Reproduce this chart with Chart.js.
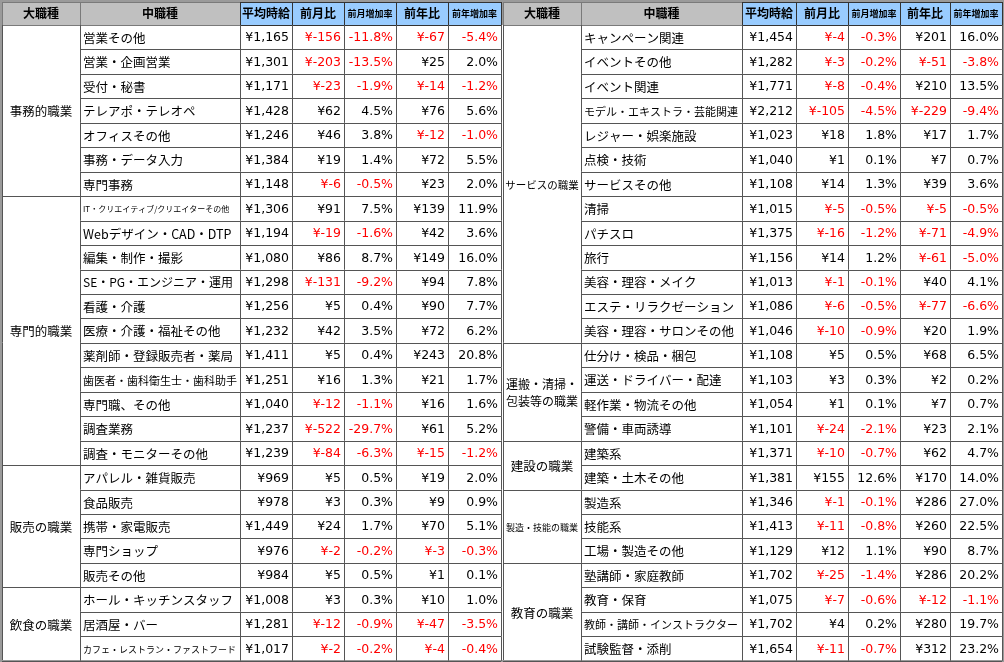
<!DOCTYPE html>
<html><head><meta charset="utf-8">
<script src="https://cdn.jsdelivr.net/npm/chart.js@4"></script>
<style>html,body{margin:0;padding:0;background:#fff}</style>
</head><body>
<canvas id="c" width="1004" height="662"></canvas>
<script>
const headers = ["大職種","中職種","平均時給","前月比","前月増加率","前年比","前年増加率"];
const leftGroups = [["事務的職業",7],["専門的職業",11],["販売の職業",5],["飲食の職業",3]];
const leftNames = ["営業その他","営業・企画営業","受付・秘書","テレアポ・テレオペ","オフィスその他","事務・データ入力","専門事務",
"IT・クリエイティブ/クリエイターその他","Webデザイン・CAD・DTP","編集・制作・撮影","SE・PG・エンジニア・運用","看護・介護","医療・介護・福祉その他","薬剤師・登録販売者・薬局","歯医者・歯科衛生士・歯科助手","専門職、その他","調査業務","調査・モニターその他",
"アパレル・雑貨販売","食品販売","携帯・家電販売","専門ショップ","販売その他",
"ホール・キッチンスタッフ","居酒屋・バー","カフェ・レストラン・ファストフード"];
const leftAvg = [1165,1301,1171,1428,1246,1384,1148,1306,1194,1080,1298,1256,1232,1411,1251,1040,1237,1239,969,978,1449,976,984,1008,1281,1017];
const leftMoM = [-156,-203,-23,62,46,19,-6,91,-19,86,-131,5,42,5,16,-12,-522,-84,5,3,24,-2,5,3,-12,-2];
const leftMoMRate = [-11.8,-13.5,-1.9,4.5,3.8,1.4,-0.5,7.5,-1.6,8.7,-9.2,0.4,3.5,0.4,1.3,-1.1,-29.7,-6.3,0.5,0.3,1.7,-0.2,0.5,0.3,-0.9,-0.2];
const leftYoY = [-67,25,-14,76,-12,72,23,139,42,149,94,90,72,243,21,16,61,-15,19,9,70,-3,1,10,-47,-4];
const leftYoYRate = [-5.4,2.0,-1.2,5.6,-1.0,5.5,2.0,11.9,3.6,16.0,7.8,7.7,6.2,20.8,1.7,1.6,5.2,-1.2,2.0,0.9,5.1,-0.3,0.1,1.0,-3.5,-0.4];

const rightGroups = [["サービスの職業",13],["運搬・清掃・\n包装等の職業",4],["建設の職業",2],["製造・技能の職業",3],["教育の職業",4]];
const rightNames = ["キャンペーン関連","イベントその他","イベント関連","モデル・エキストラ・芸能関連","レジャー・娯楽施設","点検・技術","サービスその他","清掃","パチスロ","旅行","美容・理容・メイク","エステ・リラクゼーション","美容・理容・サロンその他",
"仕分け・検品・梱包","運送・ドライバー・配達","軽作業・物流その他","警備・車両誘導","建築系","建築・土木その他","製造系","技能系","工場・製造その他","塾講師・家庭教師","教育・保育","教師・講師・インストラクター","試験監督・添削"];
const rightAvg = [1454,1282,1771,2212,1023,1040,1108,1015,1375,1156,1013,1086,1046,1108,1103,1054,1101,1371,1381,1346,1413,1129,1702,1075,1702,1654];
const rightMoM = [-4,-3,-8,-105,18,1,14,-5,-16,14,-1,-6,-10,5,3,1,-24,-10,155,-1,-11,12,-25,-7,4,-11];
const rightMoMRate = [-0.3,-0.2,-0.4,-4.5,1.8,0.1,1.3,-0.5,-1.2,1.2,-0.1,-0.5,-0.9,0.5,0.3,0.1,-2.1,-0.7,12.6,-0.1,-0.8,1.1,-1.4,-0.6,0.2,-0.7];
const rightYoY = [201,-51,210,-229,17,7,39,-5,-71,-61,40,-77,20,68,2,7,23,62,170,286,260,90,286,-12,280,312];
const rightYoYRate = [16.0,-3.8,13.5,-9.4,1.7,0.7,3.6,-0.5,-4.9,-5.0,4.1,-6.6,1.9,6.5,0.2,0.7,2.1,4.7,14.0,27.0,22.5,8.7,20.2,-1.1,19.7,23.2];

const leftCols = [2,80,240,292,344,396,448,501];
const rightCols = [503,581,742,796,848,900,950,1002];
const headTop = 2, headBot = 25, rowH = 24.45;

const fmtY = v => (v<0?"¥-":"¥") + Math.abs(v).toLocaleString("en-US");
const fmtP = v => v.toFixed(1) + "%";

const tablePlugin = {
  id:"table",
  afterDraw(chart){
    const ctx = chart.ctx, xs = chart.scales.x, ys = chart.scales.y;
    const X = v => xs.getPixelForValue(v), Y = v => ys.getPixelForValue(v);
    const FONT = '"Noto Sans CJK JP", sans-serif';
    const rowTop = i => headBot + i*rowH;
    function fit(text, size, maxW){
      let s=size; ctx.font = s+"px "+FONT;
      while(ctx.measureText(text).width>maxW && s>6){ s-=0.5; ctx.font=s+"px "+FONT; }
    }
    ctx.save();
    ctx.fillStyle = "#9a9a9a"; ctx.fillRect(X(0),Y(0),X(1004)-X(0),Y(662)-Y(0));
    ctx.fillStyle = "#fff"; ctx.fillRect(X(2),Y(headBot),X(1002)-X(2),Y(660)-Y(headBot));
    function side(cols, groups, names, avg, mom, momr, yoy, yoyr){
      for(let c=0;c<7;c++){
        ctx.fillStyle = c<2 ? "#c0c0c0" : "#99ccff";
        ctx.fillRect(X(cols[c]),Y(headTop),X(cols[c+1])-X(cols[c]),Y(headBot)-Y(headTop));
        ctx.strokeStyle = c<2 ? "#7a7a7a" : "#333"; ctx.lineWidth=1;
        ctx.strokeRect(X(cols[c])+0.5,Y(headTop)+0.5,X(cols[c+1])-X(cols[c]),Y(headBot)-Y(headTop));
        ctx.fillStyle="#000";
        const small = (c==4||c==6);
        ctx.font = "bold " + (small?9:12) + "px " + FONT;
        ctx.textAlign="center"; ctx.textBaseline="middle";
        ctx.fillText(headers[c],(X(cols[c])+X(cols[c+1]))/2,(Y(headTop)+Y(headBot))/2);
      }
      ctx.strokeStyle="#555"; ctx.lineWidth=1;
      for(let i=0;i<names.length;i++){
        const t=Y(rowTop(i)), b=Y(rowTop(i+1)), m=(t+b)/2+1;
        ctx.beginPath();
        for(let c=1;c<=7;c++){ctx.moveTo(Math.round(X(cols[c]))+0.5,t);ctx.lineTo(Math.round(X(cols[c]))+0.5,b);}
        ctx.moveTo(X(cols[1]),Math.round(b)+0.5);ctx.lineTo(X(cols[7]),Math.round(b)+0.5);
        ctx.stroke();
        const nm = names[i];
        ctx.fillStyle="#000"; ctx.textAlign="left"; ctx.textBaseline="middle";
        fit(nm, 12.5, X(cols[2])-X(cols[1])-6);
        ctx.fillText(nm, X(cols[1])+3, m);
        ctx.textAlign="right";
        ctx.font = '12.5px "DejaVu Sans", sans-serif';
        const vals=[[fmtY(avg[i]),false],[fmtY(mom[i]),mom[i]<0],[fmtP(momr[i]),momr[i]<0],[fmtY(yoy[i]),yoy[i]<0],[fmtP(yoyr[i]),yoyr[i]<0]];
        for(let k=0;k<5;k++){
          ctx.fillStyle = vals[k][1] ? "#ff0000" : "#000";
          ctx.fillText(vals[k][0], X(cols[k+3])-3, m);
        }
      }
      let r=0;
      for(const [g,n] of groups){
        const t=Y(rowTop(r)), b=Y(rowTop(r+n));
        ctx.beginPath();ctx.moveTo(X(cols[0]),Math.round(b)+0.5);ctx.lineTo(X(cols[1]),Math.round(b)+0.5);ctx.stroke();
        ctx.fillStyle="#000"; ctx.textAlign="center"; ctx.textBaseline="middle";
        const lines=g.split("\n");
        const w = X(cols[1])-X(cols[0])-4;
        fit(lines.reduce((a,l)=>l.length>a.length?l:a,""), 12.5, w);
        lines.forEach((l,j)=>ctx.fillText(l,(X(cols[0])+X(cols[1]))/2,(t+b)/2+1+(j-(lines.length-1)/2)*17));
        r+=n;
      }
      ctx.beginPath();ctx.moveTo(Math.round(X(cols[0]))+0.5,Y(headBot));ctx.lineTo(Math.round(X(cols[0]))+0.5,Y(660));ctx.stroke();
    }
    side(leftCols,leftGroups,leftNames,leftAvg,leftMoM,leftMoMRate,leftYoY,leftYoYRate);
    side(rightCols,rightGroups,rightNames,rightAvg,rightMoM,rightMoMRate,rightYoY,rightYoYRate);
    ctx.restore();
  }
};

new Chart(document.getElementById("c"),{
  type:"scatter",
  data:{datasets:[{data:[],pointRadius:0}]},
  options:{
    responsive:false,animation:false,
    layout:{padding:0},
    plugins:{legend:{display:false},tooltip:{enabled:false}},
    scales:{
      x:{type:"linear",min:0,max:1004,display:false},
      y:{type:"linear",min:0,max:662,reverse:true,display:false}
    }
  },
  plugins:[tablePlugin]
});
</script>
</body></html>
